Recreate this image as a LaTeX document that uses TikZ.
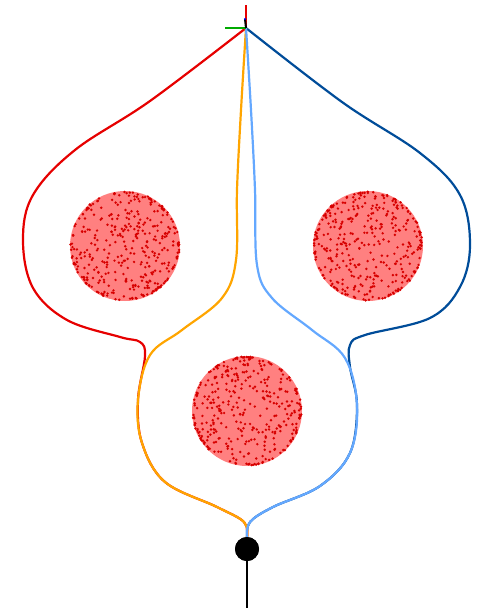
\documentclass[tikz,border=0pt]{standalone}
\usetikzlibrary{calc}
\definecolor{pathred}{RGB}{230,0,0}
\definecolor{pathorange}{RGB}{255,165,0}
\definecolor{pathlblue}{RGB}{100,168,255}
\definecolor{pathdblue}{RGB}{0,76,153}
\definecolor{obsfill}{RGB}{255,128,128}
\definecolor{obsdot}{RGB}{215,0,0}
\definecolor{axgreen}{RGB}{0,170,0}
\tikzset{
  traj/.style={line width=2.2pt, line join=round, line cap=round},
  obstacle/.style={circle, fill=obsfill, draw=none, minimum size=110pt, inner sep=0pt},
  robot/.style={circle, fill=black, minimum size=24pt, inner sep=0pt},
}
\newcommand{\obsdots}[1]{%
  \begin{scope}[shift={(#1)}]
    \foreach \i in {1,...,260}{%
      \pgfmathsetmacro\rr{53.5*sqrt(rnd)}%
      \pgfmathsetmacro\aa{360*rnd}%
      \fill[obsdot] (\aa:\rr) circle (1.35);
    }
    \foreach \i in {1,...,110}{%
      \pgfmathsetmacro\rr{52.5+2*rnd}%
      \pgfmathsetmacro\aa{360*rnd}%
      \fill[obsdot] (\aa:\rr) circle (1.35);
    }
  \end{scope}}
\begin{document}
\begin{tikzpicture}[x=1pt,y=-1pt]
\useasboundingbox (0,0) rectangle (479,610);
\pgfmathsetseed{7}
% obstacles
\node[obstacle] (obsL) at (125,246) {};
\node[obstacle] (obsR) at (368,246) {};
\node[obstacle] (obsB) at (247,411) {};
\obsdots{obsL}
\obsdots{obsR}
\obsdots{obsB}
% start and goal
\coordinate (start) at (246,28);
\node[robot] (goal) at (247,549) {};
\coordinate (tail) at (247,608);
\coordinate (arrive) at (247,537);
% trajectories
\draw[traj, pathred] plot[smooth, tension=0.6] coordinates {(start) (150,101) (75,150) (33,195) (23,240) (33,288) (67,320) (120,337) (140,342) (145,356) (138,400) (142,443) (165,482) (217,507) (244,522) (arrive)};
\draw[traj, pathdblue] plot[smooth, tension=0.6] coordinates {(start) (342,102) (420,153) (460,195) (470,245) (460,287) (430,318) (365,335) (350,345) (350,367) (357,405) (350,453) (320,486) (273,507) (250,522) (arrive)};
\draw[traj, pathorange] plot[smooth, tension=0.6] coordinates {(start) (241,110) (237,190) (236,260) (222,298) (182,330) (150,355) (138,400) (142,443) (165,482) (217,507) (244,522) (arrive)};
\draw[traj, pathlblue] plot[smooth, tension=0.6] coordinates {(start) (251,110) (255,190) (257,265) (272,298) (312,330) (345,358) (357,405) (350,453) (320,486) (273,507) (250,522) (arrive)};
% goal
\node[robot] at (goal) {};
\draw[line width=2.2pt] (goal.south) -- (tail);
% start frame axes
\coordinate (axX) at (246,5);
\coordinate (axY) at (225,28);
\coordinate (axZ) at (245,19);
\draw[pathred, line width=2pt] (start) -- (axX);
\draw[axgreen, line width=2pt] (start) -- (axY);
\draw[black, line width=2pt] (start) -- (axZ);
\fill[blue] (axZ) circle (1.2);
\end{tikzpicture}
\end{document}
